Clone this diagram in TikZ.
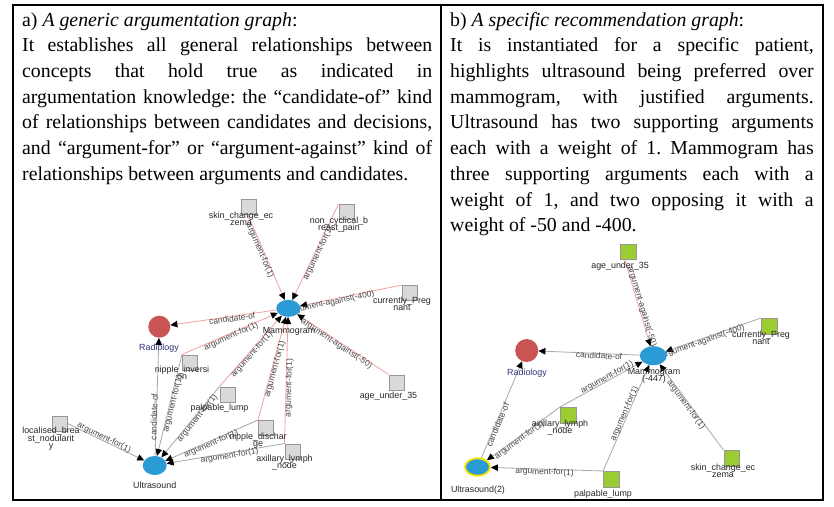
\documentclass[tikz,border=0pt]{standalone}
\usepackage{fontspec}
\setmainfont{Liberation Serif}
\newfontfamily\gsans{Liberation Sans}
\usetikzlibrary{arrows.meta,shapes.geometric}
\pgfdeclarelayer{bg}
\pgfsetlayers{bg,main}
\hbadness=10000
\frenchspacing
\definecolor{pinkline}{RGB}{245,160,160}
\definecolor{grayline}{RGB}{168,168,168}
\definecolor{nodeblue}{RGB}{43,155,214}
\definecolor{nodered}{RGB}{201,84,84}
\definecolor{sqgreen}{RGB}{155,204,50}
\definecolor{sqgray}{RGB}{217,217,217}
\definecolor{sqborder}{RGB}{150,150,150}
\definecolor{labc}{RGB}{40,40,40}
\definecolor{elabc}{RGB}{70,70,70}
\definecolor{navy}{RGB}{50,50,125}
\definecolor{hilite}{RGB}{250,228,0}
\newcommand\jline[2]{\hbox to #1{#2}}
\tikzset{
 tip/.style={-{Triangle[length=7pt,width=6.5pt,color=black]}},
 pk/.style={draw=pinkline, line width=0.8pt, tip},
 gy/.style={draw=grayline, line width=0.8pt, tip},
 elab/.style={sloped, font=\gsans\fontsize{8.4pt}{9pt}\selectfont, text=elabc, inner sep=0.3pt},
 ea/.style={elab, above=-1.5pt},
 eb/.style={elab, below=-1.5pt},
 lsq/.style={draw=sqborder, fill=sqgray, line width=0.8pt, minimum size=15pt, inner sep=0pt, anchor=north west},
 rsq/.style={lsq, fill=sqgreen, minimum size=15.5pt},
 nlab/.style={font=\gsans\fontsize{8.9pt}{9pt}\selectfont, text=labc, inner sep=0pt, anchor=base},
 ell/.style={ellipse, fill=nodeblue, inner sep=0pt},
 rad/.style={circle, fill=nodered, inner sep=0pt, minimum size=22pt},
 txt/.style={anchor=base west, inner sep=0pt, font=\fontsize{19.8pt}{25.7pt}\selectfont},
}
\begin{document}
\begin{tikzpicture}[x=1pt,y=-1pt]
\useasboundingbox (0,0) rectangle (834,506);
\begin{pgfonlayer}{bg}
\fill[white] (0,0) rectangle (834,506);
\end{pgfonlayer}
% frame
\draw[line width=1.2pt] (13,5) rectangle (823,500);
\draw[line width=1.2pt] (441,5) -- (441,500);

% ---------- left text ----------
\node[txt] (tl0) at (22,26.1) {a) \textit{A generic argumentation graph}:};
\node[txt] (tl1) at (22,51.8) {\jline{410pt}{It establishes all general relationships between}};
\node[txt] (tl2) at (22,77.5) {\jline{410pt}{concepts that hold true as indicated in}};
\node[txt] (tl3) at (22,103.2) {\jline{410pt}{argumentation knowledge: the “candidate-of” kind}};
\node[txt] (tl4) at (22,128.9) {\jline{410pt}{of relationships between candidates and decisions,}};
\node[txt] (tl5) at (22,154.6) {\jline{410pt}{and “argument-for” or “argument-against” kind of}};
\node[txt] (tl6) at (22,180.3) {relationships between arguments and candidates.};

% ---------- right text ----------
\node[txt] (tr0) at (450,26.1) {b) \textit{A specific recommendation graph}:};
\node[txt] (tr1) at (450,51.8) {\jline{363.5pt}{It is instantiated for a specific patient,}};
\node[txt] (tr2) at (450,77.5) {\jline{363.5pt}{highlights ultrasound being preferred over}};
\node[txt] (tr3) at (450,103.2) {\jline{363.5pt}{mammogram, with justified arguments.}};
\node[txt] (tr4) at (450,128.9) {\jline{363.5pt}{Ultrasound has two supporting arguments}};
\node[txt] (tr5) at (450,154.6) {\jline{363.5pt}{each with a weight of 1. Mammogram has}};
\node[txt] (tr6) at (450,180.3) {\jline{363.5pt}{three supporting arguments each with a}};
\node[txt] (tr7) at (450,206.0) {\jline{363.5pt}{weight of 1, and two opposing it with a}};
\node[txt] (tr8) at (450,231.7) {weight of -50 and -400.};

% ---------- left graph nodes ----------
\node[ell, minimum width=24pt, minimum height=17pt] (lM) at (288.3,308.3) {};
\node[ell, minimum width=24pt, minimum height=19pt] (lU) at (154.7,465.5) {};
\node[rad] (lR) at (159.3,326.7) {};
\node[lsq] (lskin) at (241,199) {};
\node[lsq] (lnon) at (338.5,204) {};
\node[lsq] (lpreg) at (402,285) {};
\node[lsq] (lnip) at (182,354.5) {};
\node[lsq] (lpal) at (219.5,386.5) {};
\node[lsq] (lage) at (388.5,374.5) {};
\node[lsq] (lloc) at (52,416) {};
\node[lsq] (ldis) at (258,420) {};
\node[lsq] (laxi) at (284.5,443.5) {};

\node[nlab] (lskinA) at (241,218) {skin\_change\_ec};
\node[nlab] (lskinB) at (241,225.3) {zema};
\node[nlab] (lnonA) at (339,223) {non\_cyclical\_b};
\node[nlab] (lnonB) at (339,230) {reast\_pain};
\node[nlab] (lpregA) at (402,303.7) {currently\_Preg};
\node[nlab] (lpregB) at (402,310.5) {nant};
\node[nlab] (lnipA) at (182,372.3) {nipple\_inversi};
\node[nlab] (lnipB) at (182,379.7) {on};
\node[nlab] (lpalA) at (219.5,410.3) {palpable\_lump};
\node[nlab] (lageA) at (388.5,398) {age\_under\_35};
\node[nlab] (llocA) at (51,433.7) {localised\_brea};
\node[nlab] (llocB) at (51,441.2) {st\_nodularit};
\node[nlab] (llocC) at (51,448.7) {y};
\node[nlab] (ldisA) at (258,439) {nipple\_dischar};
\node[nlab] (ldisB) at (258,446.3) {ge};
\node[nlab] (laxiA) at (284.5,461.3) {axillary\_lymph};
\node[nlab] (laxiB) at (284.5,468.7) {\_node};
\node[nlab] (lMl) at (289,333) {Mammogram};
\node[nlab, text=navy] (lRl) at (159,350) {Radiology};
\node[nlab] (lUl) at (154.7,488) {Ultrasound};

% ---------- right graph nodes ----------
\node[ell, minimum width=27pt, minimum height=19pt] (rM) at (653.3,355.7) {};
\node[ell, minimum width=25pt, minimum height=17.5pt, draw=hilite, line width=1.8pt] (rU) at (477.5,467) {};
\node[rad, minimum size=23pt] (rR) at (526.7,350.5) {};
\node[rsq] (rage) at (620,243.5) {};
\node[rsq] (rpreg) at (761,318) {};
\node[rsq] (raxi) at (560,407) {};
\node[rsq] (rpal) at (603,471) {};
\node[rsq] (rskin) at (723.5,450) {};

\node[nlab] (rageA) at (620,268) {age\_under\_35};
\node[nlab] (rpregA) at (761,337.3) {currently\_Preg};
\node[nlab] (rpregB) at (761,344.7) {nant};
\node[nlab] (raxiA) at (560,426.3) {axillary\_lymph};
\node[nlab] (raxiB) at (560,433.7) {\_node};
\node[nlab] (rpalA) at (603,496.3) {palpable\_lump};
\node[nlab] (rskinA) at (723,470.3) {skin\_change\_ec};
\node[nlab] (rskinB) at (723,477.8) {zema};
\node[nlab] (rMl) at (654,374) {Mammogram};
\node[nlab] (rMl2) at (654,381.8) {(-447)};
\node[nlab, text=navy] (rRl) at (527,375) {Radiology};
\node[nlab] (rUl) at (478,492) {Ultrasound(2)};

% ---------- edges ----------
\begin{pgfonlayer}{bg}
% left: to Mammogram
\draw[pk] (lskin.north west) -- node[eb,pos=.5]{argument-for(1)} (lM);
\draw[pk] (lnon.north west) -- node[eb,pos=.5]{argument-for(1)} (lM);
\draw[pk] (lpreg.north west) -- node[eb,pos=.7]{argument-against(-400)} (lM);
\draw[pk] (lage.north west) -- node[eb,pos=.55]{argument-against(-50)} (lM);
\draw[pk] (lnip.north west) -- node[eb,pos=.5]{argument-for(1)} (lM);
\draw[pk] (lpal.north west) -- node[eb,pos=.48]{argument-for(1)} (lM);
\draw[pk] (ldis.north west) -- node[eb,pos=.5]{argument-for(1)} (lM);
\draw[pk] (laxi.north west) -- node[eb,pos=.44]{argument-for(1)} (lM);
\draw[pk] (lM) -- node[eb,pos=.42]{candidate-of} (lR);
% left: to Ultrasound
\draw[gy] (lloc.north west) -- node[ea,pos=.55]{argument-for(1)} (lU);
\draw[gy] (lnip.north west) -- node[eb,pos=.48]{argument-for(1)} (lU);
\draw[gy] (lpal.north west) -- node[eb,pos=.42]{argument-for(1)} (lU);
\draw[gy] (ldis.north west) -- node[eb,pos=.52]{argument-for(1)} (lU);
\draw[gy] (laxi.north west) -- node[eb,pos=.47]{argument-for(1)} (lU);
\draw[gy] (lU) -- node[ea,pos=.33]{candidate-of} (lR);
% right
\draw[pk] (rage.north west) -- node[ea,pos=.62]{argument-against(-50)} (rM);
\draw[gy] (rpreg.north west) -- node[eb,pos=.62]{argument-against(-400)} (rM);
\draw[gy] (rM) -- node[eb,pos=.4]{candidate-of} (rR);
\draw[gy] (rU) -- node[eb,pos=.35]{candidate-of} (rR);
\draw[gy] (raxi.north west) -- node[ea,pos=.59]{argument-for(1)} (rM);
\draw[gy] (raxi.north west) -- node[eb,pos=.58]{argument-for(1)} (rU);
\draw[gy] (rpal.north west) -- node[ea,pos=.53]{argument-for(1)} (rM);
\draw[gy] (rpal.north west) -- node[eb,pos=.52]{argument-for(1)} (rU);
\draw[gy] (rskin.north west) -- node[eb,pos=.55]{argument-for(1)} (rM);
\end{pgfonlayer}
\end{tikzpicture}
\end{document}
